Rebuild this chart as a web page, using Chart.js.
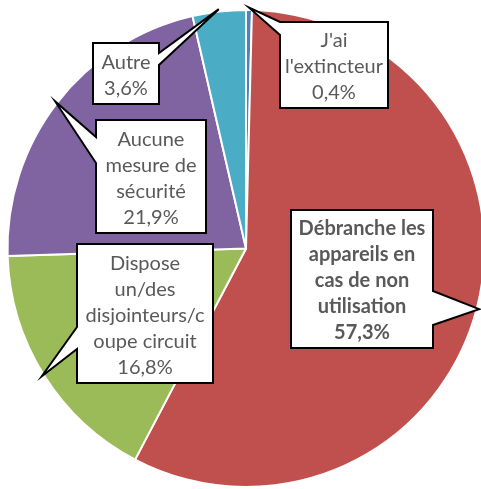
<!DOCTYPE html>
<html>
<head>
<meta charset="utf-8">
<script src="https://cdn.jsdelivr.net/npm/chart.js@4"></script>
<style>
  html, body { margin: 0; padding: 0; background: #fff; overflow: hidden; }
  #wrap { width: 492px; height: 489px; position: relative; }
</style>
</head>
<body>
<div id="wrap"><canvas id="chart"></canvas></div>
<script>
// Data, clockwise from 12 o'clock
const categories = ["J'ai l'extincteur", 'Débranche les appareils en cas de non utilisation',
  'Dispose un/des disjointeurs/coupe circuit', 'Aucune mesure de sécurité', 'Autre'];
const values = [0.4, 57.3, 16.8, 21.9, 3.6];
const colors = ['#4F81BD', '#C0504D', '#9BBB59', '#8064A2', '#4BACC6'];

// Callout label text (as displayed, with line breaks)
const labelLines = [
  ["J'ai", "l'extincteur", '0,4%'],
  ['Débranche les', 'appareils en', 'cas de non', 'utilisation', '57,3%'],
  ['Dispose', 'un/des', 'disjointeurs/c', 'oupe circuit', '16,8%'],
  ['Aucune', 'mesure de', 'sécurité', '21,9%'],
  ['Autre', '3,6%']
];

// Callout boxes: x, y, w, h, pointer side and pointer base span along that side
const boxes = [
  { x: 280, y: 22, w: 108, h: 86, side: 'left', b0: 22, b1: 35 },
  { x: 291, y: 210, w: 142, h: 138, side: 'right', b0: 291, b1: 325, bold: true },
  { x: 77, y: 244, w: 136, h: 139, side: 'left', b0: 327, b1: 349 },
  { x: 96, y: 120, w: 110, h: 113, side: 'left', b0: 137, b1: 163 },
  { x: 93, y: 43, w: 66, h: 61, side: 'right', b0: 53, b1: 65 }
];

const calloutPlugin = {
  id: 'callouts',
  afterDraw(chart) {
    const ctx = chart.ctx;
    const arcs = chart.getDatasetMeta(0).data;
    arcs.forEach((arc, i) => {
      const b = boxes[i];
      const mid = (arc.startAngle + arc.endAngle) / 2;
      const r = arc.outerRadius * 1.01;
      const tx = arc.x + Math.cos(mid) * r;
      const ty = arc.y + Math.sin(mid) * r;

      ctx.save();
      ctx.beginPath();
      const L = b.x, T = b.y, R = b.x + b.w, B = b.y + b.h;
      ctx.moveTo(L, T);
      ctx.lineTo(R, T);
      if (b.side === 'right') {
        ctx.lineTo(R, b.b0);
        ctx.lineTo(tx, ty);
        ctx.lineTo(R, b.b1);
      }
      ctx.lineTo(R, B);
      ctx.lineTo(L, B);
      if (b.side === 'left') {
        ctx.lineTo(L, b.b1);
        ctx.lineTo(tx, ty);
        ctx.lineTo(L, b.b0);
      }
      ctx.closePath();
      ctx.fillStyle = '#ffffff';
      ctx.fill();
      ctx.lineWidth = 2;
      ctx.lineJoin = 'miter';
      ctx.strokeStyle = '#000000';
      ctx.stroke();

      const lines = labelLines[i];
      const lh = 26;
      ctx.fillStyle = '#595959';
      ctx.font = (b.bold ? 'bold ' : '') + '20px Lato';
      ctx.textAlign = 'center';
      ctx.textBaseline = 'middle';
      const cx = L + b.w / 2;
      const cy = T + b.h / 2 + 2;
      const y0 = cy - (lines.length - 1) * lh / 2;
      lines.forEach((t, k) => ctx.fillText(t, cx, y0 + k * lh));
      ctx.restore();
    });
  }
};

const ctx = document.getElementById('chart').getContext('2d');
new Chart(ctx, {
  type: 'pie',
  data: {
    labels: categories,
    datasets: [{
      data: values,
      backgroundColor: colors,
      borderColor: '#ffffff',
      borderWidth: 2
    }]
  },
  options: {
    responsive: true,
    maintainAspectRatio: false,
    animation: false,
    events: [],
    layout: { padding: { left: 6, right: 6, top: 9, bottom: 1 } },
    plugins: {
      legend: { display: false },
      tooltip: { enabled: false }
    }
  },
  plugins: [calloutPlugin]
});
</script>
</body>
</html>
